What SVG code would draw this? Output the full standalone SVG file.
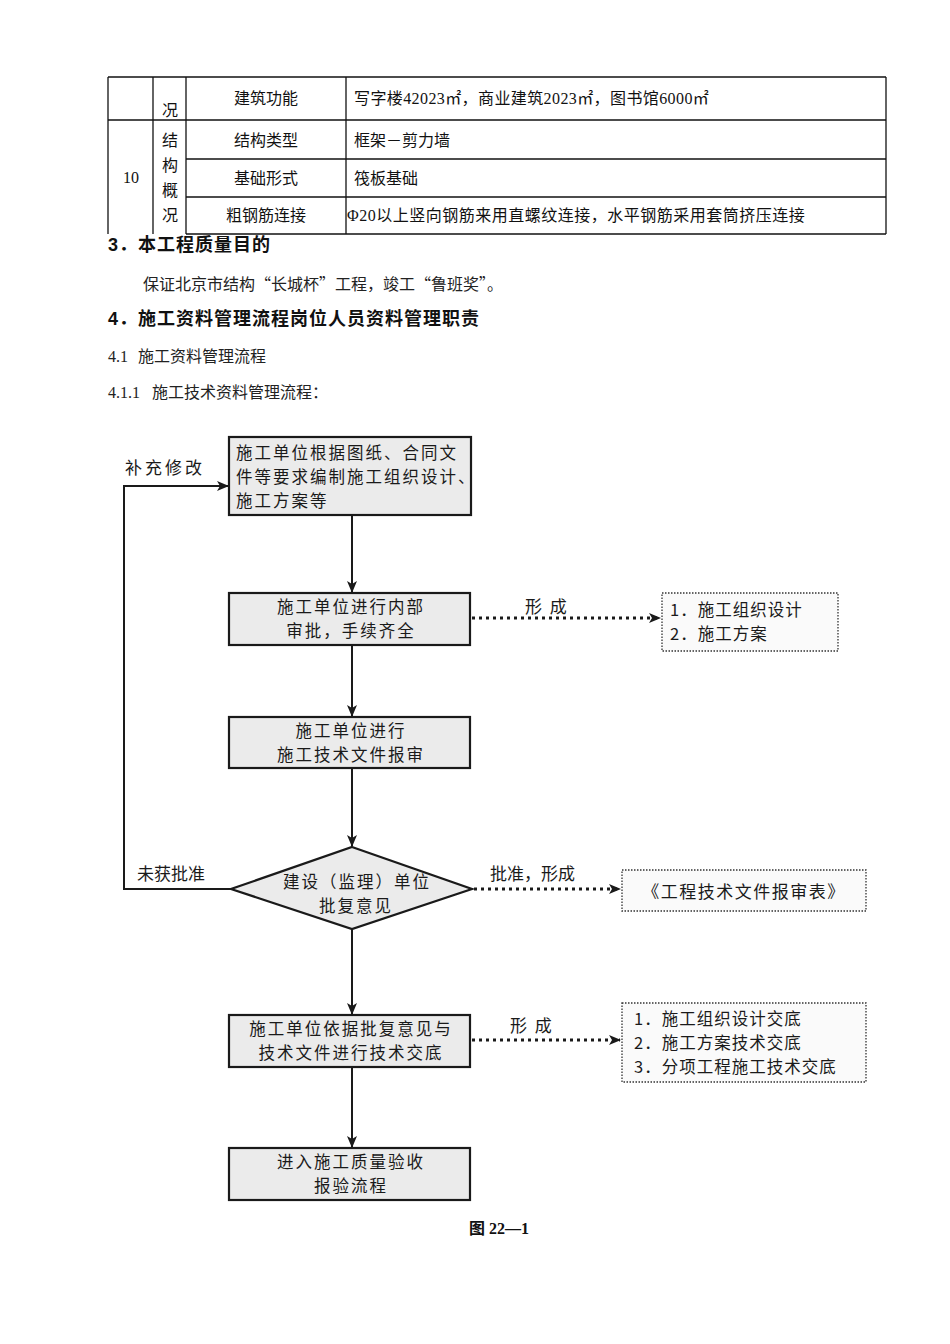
<svg xmlns="http://www.w3.org/2000/svg" width="950" height="1344" viewBox="0 0 950 1344">
<style>
  .t { font-family: "Liberation Serif", "Noto Sans CJK SC", serif; fill: #111; }
  .tb { font-family: "Liberation Serif", "Noto Sans CJK SC", serif; font-size: 16px; fill: #111; }
  .h { font-family: "Liberation Sans", "Noto Sans CJK SC", sans-serif; font-size: 18px; font-weight: bold; fill: #111; letter-spacing: 1px; }
  .p { font-family: "Noto Sans CJK SC", "Liberation Serif", serif; font-size: 16px; fill: #222; }
  .n { font-family: "Liberation Serif", serif; font-size: 16px; fill: #222; }
  .grid { stroke: #111; stroke-width: 1.3; fill: none; }
  .box { fill: #ebebeb; stroke: #1a1a1a; stroke-width: 2.2; }
  .dbox { fill: #fafafa; stroke: #333; stroke-width: 1.3; stroke-dasharray: 1.5 1.5; }
  .bt { font-family: "Noto Sans CJK SC", "Liberation Serif", serif; font-size: 16.5px; letter-spacing: 2px; fill: #1a1a1a; }
  .lt { font-family: "Noto Sans CJK SC", "Liberation Serif", serif; font-size: 17px; fill: #1a1a1a; }
  .ot { font-family: "Noto Sans CJK SC", "Liberation Serif", serif; font-size: 16.5px; letter-spacing: 1px; fill: #1a1a1a; }
  .ln { stroke: #1a1a1a; stroke-width: 2; fill: none; }
  .dl { stroke: #1a1a1a; stroke-width: 3; fill: none; stroke-dasharray: 3 4; }
</style>
<defs>
  <marker id="ah" viewBox="0 0 12 10" refX="11" refY="5" markerWidth="12" markerHeight="10" markerUnits="userSpaceOnUse" orient="auto">
    <path d="M0,0 L12,5 L0,10 L3,5 Z" fill="#1a1a1a"/>
  </marker>
</defs>
<rect width="950" height="1344" fill="#ffffff"/>

<g id="table">
  <line class="grid" x1="108" y1="77" x2="886" y2="77"/>
  <line class="grid" x1="108" y1="120" x2="886" y2="120"/>
  <line class="grid" x1="186" y1="159" x2="886" y2="159"/>
  <line class="grid" x1="186" y1="197" x2="886" y2="197"/>
  <line class="grid" x1="186" y1="234" x2="886" y2="234"/>
  <line class="grid" x1="108" y1="77" x2="108" y2="234"/>
  <line class="grid" x1="153" y1="77" x2="153" y2="234"/>
  <line class="grid" x1="186" y1="77" x2="186" y2="234"/>
  <line class="grid" x1="346" y1="77" x2="346" y2="234"/>
  <line class="grid" x1="886" y1="77" x2="886" y2="234"/>
  <text class="tb" x="170" y="116" text-anchor="middle">况</text>
  <text class="tb" x="266" y="104" text-anchor="middle">建筑功能</text>
  <text class="tb" x="354" y="104" letter-spacing="0.4">写字楼42023㎡，商业建筑2023㎡，图书馆6000㎡</text>
  <text class="tb" x="131" y="183" text-anchor="middle">10</text>
  <text class="tb" x="170" y="146" text-anchor="middle">结</text>
  <text class="tb" x="170" y="171" text-anchor="middle">构</text>
  <text class="tb" x="170" y="196" text-anchor="middle">概</text>
  <text class="tb" x="170" y="221" text-anchor="middle">况</text>
  <text class="tb" x="266" y="146" text-anchor="middle">结构类型</text>
  <text class="tb" x="354" y="146">框架－剪力墙</text>
  <text class="tb" x="266" y="184" text-anchor="middle">基础形式</text>
  <text class="tb" x="354" y="184">筏板基础</text>
  <text class="tb" x="266" y="221" text-anchor="middle">粗钢筋连接</text>
  <text class="tb" x="347" y="221" letter-spacing="0.5">Φ20以上竖向钢筋来用直螺纹连接，水平钢筋采用套筒挤压连接</text>
</g>

<g id="text-body">
  <text class="h" x="108" y="251">3．本工程质量目的</text>
  <text class="p" x="143" y="290">保证北京市结构“长城杯”工程，竣工“鲁班奖”。</text>
  <text class="h" x="108" y="325">4．施工资料管理流程岗位人员资料管理职责</text>
  <text class="n" x="108" y="362">4.1</text>
  <text class="p" x="138" y="362">施工资料管理流程</text>
  <text class="n" x="108" y="398">4.1.1</text>
  <text class="p" x="152" y="398">施工技术资料管理流程：</text>
</g>

<g id="connectors">
  <line class="ln" x1="352" y1="515" x2="352" y2="592" marker-end="url(#ah)"/>
  <line class="ln" x1="352" y1="645" x2="352" y2="716" marker-end="url(#ah)"/>
  <line class="ln" x1="352" y1="768" x2="352" y2="846" marker-end="url(#ah)"/>
  <line class="ln" x1="352" y1="929" x2="352" y2="1014" marker-end="url(#ah)"/>
  <line class="ln" x1="352" y1="1067" x2="352" y2="1147" marker-end="url(#ah)"/>
  <polyline class="ln" points="231,889 124,889 124,486 228,486" marker-end="url(#ah)"/>
  <line class="dl" x1="472" y1="618" x2="660" y2="618" marker-end="url(#ah)"/>
  <line class="dl" x1="474" y1="889" x2="620" y2="889" marker-end="url(#ah)"/>
  <line class="dl" x1="472" y1="1040" x2="620" y2="1040" marker-end="url(#ah)"/>
  <text class="lt" x="125" y="474" letter-spacing="3">补充修改</text>
  <text class="lt" x="137" y="880" font-size="18">未获批准</text>
  <text class="lt" x="525" y="613" letter-spacing="2">形 成</text>
  <text class="lt" x="490" y="880" font-size="18">批准，形成</text>
  <text class="lt" x="510" y="1032" letter-spacing="2">形 成</text>
</g>

<g id="n1">
  <rect class="box" x="229" y="437" width="242" height="78"/>
  <text class="bt" x="236" y="459" letter-spacing="2.3">施工单位根据图纸、合同文</text>
  <text class="bt" x="236" y="483" letter-spacing="1.5">件等要求编制施工组织设计、</text>
  <text class="bt" x="236" y="507">施工方案等</text>
</g>
<g id="n2">
  <rect class="box" x="229" y="593" width="241" height="52"/>
  <text class="bt" x="351" y="613" text-anchor="middle">施工单位进行内部</text>
  <text class="bt" x="351" y="637" text-anchor="middle">审批，手续齐全</text>
</g>
<g id="o1">
  <rect class="dbox" x="662" y="593" width="176" height="58"/>
  <text class="ot" x="670" y="616">1．施工组织设计</text>
  <text class="ot" x="670" y="640">2．施工方案</text>
</g>
<g id="n3">
  <rect class="box" x="229" y="717" width="241" height="51"/>
  <text class="bt" x="351" y="737" text-anchor="middle">施工单位进行</text>
  <text class="bt" x="351" y="761" text-anchor="middle">施工技术文件报审</text>
</g>
<g id="d1">
  <polygon class="box" points="352,847 472,889 352,929 231,889"/>
  <text class="bt" x="357" y="888" text-anchor="middle" font-size="16" letter-spacing="0">建设（监理）单位</text>
  <text class="bt" x="356" y="912" text-anchor="middle" font-size="16" letter-spacing="0.5">批复意见</text>
</g>
<g id="o2">
  <rect class="dbox" x="622" y="870" width="244" height="41"/>
  <text class="lt" x="744" y="898" text-anchor="middle" font-size="17.5" letter-spacing="1.5">《工程技术文件报审表》</text>
</g>
<g id="n4">
  <rect class="box" x="229" y="1015" width="241" height="52"/>
  <text class="bt" x="351" y="1035" text-anchor="middle">施工单位依据批复意见与</text>
  <text class="bt" x="351" y="1059" text-anchor="middle">技术文件进行技术交底</text>
</g>
<g id="o3">
  <rect class="dbox" x="622" y="1003" width="244" height="79"/>
  <text class="ot" x="634" y="1025">1．施工组织设计交底</text>
  <text class="ot" x="634" y="1049">2．施工方案技术交底</text>
  <text class="ot" x="634" y="1073">3．分项工程施工技术交底</text>
</g>
<g id="n5">
  <rect class="box" x="229" y="1148" width="241" height="52"/>
  <text class="bt" x="351" y="1168" text-anchor="middle">进入施工质量验收</text>
  <text class="bt" x="351" y="1192" text-anchor="middle">报验流程</text>
</g>

<g id="caption">
  <text class="t" x="469" y="1234" font-size="16" font-weight="bold">图 22—1</text>
</g>
</svg>
